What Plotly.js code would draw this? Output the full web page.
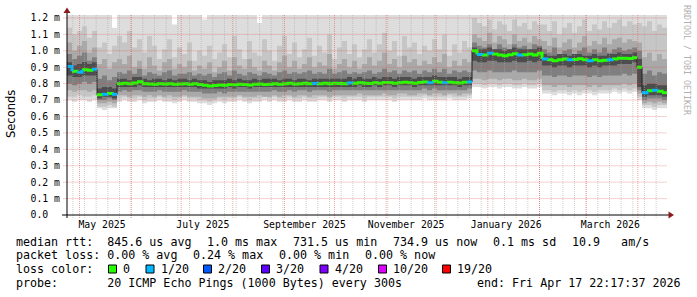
<!DOCTYPE html>
<html><head><meta charset="utf-8">
<script src="https://cdn.plot.ly/plotly-3.0.1.min.js"></script>
<style>html,body{margin:0;padding:0;background:#fff;}#chart{width:697px;height:297px;}</style>
</head><body><div id="chart"></div>
<script>
// ---------- DATA ----------
const START = Date.UTC(2025, 3, 23, 12, 0, 0);   // left edge / first step
const STEP_DAYS = 3;                              // rrd step of this graph
const RANGE_END = '2026-04-18 12:00:00';

// median rtt in ms, one value per 3-day step
const median = [
 0.905,0.875,0.870,0.885,0.882,0.888,
 0.732,0.736,0.740,0.735,
 0.800,0.802,0.800,0.804,0.812,0.800,0.798,0.797,0.800,0.798,
 0.800,0.796,0.798,0.800,0.797,0.799,0.795,0.790,0.786,0.788,
 0.792,0.790,0.795,0.793,0.797,0.795,0.792,0.796,0.798,0.795,
 0.797,0.800,0.796,0.799,0.802,0.798,0.800,0.803,0.799,0.801,
 0.800,0.802,0.799,0.803,0.801,0.800,0.804,0.802,0.806,0.803,
 0.801,0.805,0.803,0.807,0.805,0.803,0.806,0.809,0.806,0.803,
 0.807,0.810,0.806,0.814,0.808,0.805,0.809,0.806,0.804,0.808,0.810,
 1.000,0.978,0.975,0.985,0.980,0.975,0.970,0.976,0.982,0.975,0.976,0.980,0.975,0.985,
 0.950,0.945,0.940,0.946,0.950,0.945,0.947,0.952,0.945,0.940,0.946,0.940,0.942,0.946,0.950,
 0.955,0.955,0.953,0.958,
 0.900,
 0.745,0.756,0.760,0.754,0.745];

// lost pings (of 20) per step
const lossCount = [
 1,0,1,0,0,1,0,1,0,1,
 0,0,0,0,0,0,0,0,0,0,
 0,0,0,0,0,0,0,0,0,0,
 0,0,0,0,0,0,0,0,0,0,
 0,0,0,0,0,0,0,0,0,1,
 0,0,0,0,0,0,1,0,0,0,
 0,0,0,0,0,0,0,0,0,0,
 0,0,1,0,0,1,0,0,0,0,
 1,0,1,0,1,0,0,0,0,0,
 1,0,0,0,0,1,0,0,0,0,
 1,0,0,0,1,0,0,0,1,0,
 0,0,0,0,0,1,0,1,0,0];

// smoke bands (outer -> inner), low and high edge in ms
const smoke1Lo = [
 0.70,0.69,0.70,0.70,0.69,0.70,
 0.65,0.64,0.65,0.65,
 0.69,0.70,0.69,0.69,0.70,0.68,0.69,0.69,0.70,0.69,
 0.69,0.68,0.69,0.70,0.69,0.69,0.68,0.68,0.67,0.68,
 0.69,0.68,0.69,0.69,0.70,0.69,0.68,0.69,0.69,0.70,
 0.69,0.70,0.69,0.69,0.70,0.69,0.69,0.70,0.69,0.69,
 0.70,0.70,0.69,0.70,0.70,0.69,0.70,0.70,0.70,0.69,
 0.70,0.70,0.70,0.70,0.70,0.69,0.70,0.70,0.70,0.70,
 0.70,0.71,0.70,0.70,0.70,0.70,0.71,0.70,0.70,0.70,0.71,
 0.78,0.78,0.77,0.78,0.78,0.77,0.78,0.78,0.77,0.77,0.78,0.77,0.77,0.78,
 0.74,0.74,0.73,0.74,0.74,0.73,0.74,0.73,0.74,0.74,0.73,0.74,0.74,0.74,0.75,
 0.74,0.75,0.74,0.75,
 0.70,
 0.65,0.65,0.64,0.65,0.65];
const smoke1Hi = [
 1.25,1.25,1.25,1.25,1.25,1.25,
 1.25,1.25,1.25,1.14,
 1.25,1.25,1.25,1.25,1.25,1.25,1.25,1.25,1.25,1.25,
 1.25,1.16,1.25,1.25,1.25,1.25,1.25,1.19,1.25,1.25,
 1.25,1.25,1.25,1.25,1.25,1.25,1.25,1.25,1.17,1.25,
 1.25,1.25,1.25,1.25,1.25,1.25,1.25,1.25,1.25,1.25,
 1.25,1.25,1.25,1.25,1.25,1.25,1.25,1.25,1.25,1.25,
 1.25,1.25,1.25,1.25,1.25,1.25,1.25,1.25,1.25,1.25,
 1.25,1.25,1.25,1.25,1.25,1.25,1.25,1.25,1.25,1.25,1.25,
 1.25,1.25,1.25,1.25,1.25,1.25,1.25,1.25,1.25,1.25,1.25,1.25,1.25,1.25,
 1.25,1.25,1.25,1.25,1.25,1.25,1.25,1.25,1.25,1.25,1.25,1.25,1.25,1.25,1.25,
 1.25,1.25,1.25,1.25,
 1.25,
 1.25,1.25,1.25,1.25,1.25];
const smoke2Lo = [
 0.72,0.72,0.73,0.72,0.72,0.73,
 0.66,0.66,0.67,0.66,
 0.71,0.72,0.71,0.71,0.72,0.70,0.71,0.71,0.72,0.71,
 0.71,0.70,0.71,0.72,0.71,0.71,0.70,0.70,0.69,0.70,
 0.71,0.70,0.71,0.71,0.72,0.71,0.70,0.71,0.71,0.72,
 0.71,0.72,0.71,0.71,0.72,0.71,0.71,0.72,0.71,0.71,
 0.72,0.72,0.71,0.72,0.72,0.71,0.72,0.72,0.72,0.71,
 0.72,0.72,0.72,0.72,0.72,0.71,0.72,0.72,0.72,0.72,
 0.72,0.73,0.72,0.72,0.72,0.72,0.73,0.72,0.72,0.72,0.73,
 0.80,0.80,0.79,0.80,0.80,0.79,0.80,0.80,0.79,0.79,0.80,0.79,0.79,0.80,
 0.76,0.76,0.75,0.76,0.76,0.75,0.76,0.75,0.76,0.76,0.75,0.76,0.76,0.76,0.77,
 0.76,0.77,0.76,0.77,
 0.72,
 0.67,0.67,0.66,0.67,0.67];
const smoke2Hi = [
 1.14,1.10,1.12,1.15,1.08,1.12,
 1.02,1.05,0.98,1.03,
 1.09,1.05,1.12,1.02,1.07,0.99,1.09,1.03,0.95,1.01,
 1.07,0.96,1.02,0.98,1.05,0.94,1.00,0.97,1.03,0.95,
 0.99,1.04,0.96,1.09,1.01,0.95,1.06,0.99,0.97,1.07,
 1.00,0.94,1.03,1.09,0.98,1.05,0.96,1.01,1.08,0.97,
 1.03,0.99,1.10,0.95,1.02,1.06,0.98,1.04,0.96,1.01,
 1.07,0.99,1.04,1.11,1.00,1.06,0.97,1.09,1.02,1.05,
 0.98,1.03,1.00,1.07,1.01,1.10,0.97,1.04,0.99,1.06,1.02,
 1.20,1.17,1.15,1.19,1.13,1.18,1.16,1.12,1.19,1.15,1.17,1.13,1.18,1.16,
 1.16,1.12,1.18,1.10,1.14,1.17,1.11,1.15,1.19,1.12,1.16,1.13,1.18,1.14,1.17,
 1.19,1.15,1.18,1.16,
 1.17,
 1.15,1.18,1.12,1.16,1.14];
const smoke3Lo = [
 0.76,0.75,0.76,0.76,0.75,0.76,
 0.68,0.68,0.69,0.68,
 0.73,0.73,0.72,0.73,0.73,0.72,0.73,0.72,0.73,0.72,
 0.73,0.72,0.72,0.73,0.72,0.72,0.72,0.71,0.71,0.71,
 0.72,0.72,0.72,0.72,0.73,0.72,0.72,0.72,0.73,0.72,
 0.72,0.73,0.72,0.73,0.73,0.72,0.73,0.73,0.72,0.73,
 0.73,0.73,0.72,0.73,0.73,0.73,0.73,0.73,0.74,0.73,
 0.73,0.73,0.73,0.74,0.73,0.73,0.74,0.74,0.73,0.73,
 0.74,0.74,0.73,0.74,0.74,0.73,0.74,0.74,0.73,0.74,0.74,
 0.83,0.83,0.82,0.83,0.83,0.82,0.83,0.83,0.82,0.82,0.83,0.82,0.82,0.83,
 0.79,0.79,0.78,0.79,0.79,0.78,0.79,0.79,0.79,0.78,0.79,0.78,0.79,0.79,0.79,
 0.79,0.80,0.79,0.80,
 0.74,
 0.68,0.69,0.68,0.69,0.68];
const smoke3Hi = [
 1.05,1.00,1.03,1.06,0.99,1.02,
 0.92,0.95,0.89,0.93,
 0.95,0.92,0.97,0.90,0.94,0.89,0.96,0.91,0.88,0.93,
 0.95,0.89,0.92,0.90,0.94,0.88,0.91,0.89,0.93,0.87,
 0.90,0.94,0.88,0.96,0.91,0.89,0.95,0.90,0.88,0.94,
 0.91,0.88,0.93,0.97,0.90,0.94,0.89,0.92,0.96,0.90,
 0.93,0.91,0.98,0.89,0.92,0.95,0.90,0.94,0.89,0.92,
 0.96,0.91,0.94,0.99,0.92,0.95,0.90,0.97,0.93,0.95,
 0.91,0.94,0.92,0.96,0.93,0.98,0.90,0.94,0.91,0.95,0.93,
 1.10,1.08,1.06,1.11,1.05,1.09,1.07,1.04,1.10,1.06,1.08,1.05,1.09,1.07,
 1.06,1.03,1.08,1.02,1.05,1.07,1.02,1.05,1.09,1.03,1.06,1.04,1.08,1.04,1.07,
 1.08,1.05,1.07,1.06,
 1.05,
 0.96,0.99,0.94,0.98,0.95];
const smoke4Lo = [
 0.80,0.79,0.80,0.81,0.80,0.81,
 0.70,0.70,0.71,0.70,
 0.75,0.76,0.75,0.76,0.76,0.75,0.75,0.75,0.76,0.75,
 0.75,0.75,0.75,0.76,0.75,0.75,0.75,0.74,0.74,0.74,
 0.75,0.74,0.75,0.75,0.75,0.75,0.75,0.75,0.75,0.75,
 0.75,0.76,0.75,0.75,0.76,0.75,0.76,0.76,0.75,0.76,
 0.76,0.76,0.75,0.76,0.76,0.76,0.76,0.76,0.76,0.76,
 0.76,0.76,0.76,0.76,0.76,0.76,0.76,0.76,0.76,0.76,
 0.76,0.77,0.76,0.77,0.76,0.76,0.76,0.76,0.76,0.76,0.77,
 0.88,0.87,0.87,0.88,0.87,0.87,0.87,0.87,0.88,0.87,0.87,0.87,0.87,0.88,
 0.85,0.85,0.84,0.85,0.85,0.84,0.85,0.85,0.85,0.84,0.85,0.84,0.85,0.85,0.85,
 0.85,0.86,0.85,0.86,
 0.76,
 0.70,0.71,0.71,0.71,0.70];
const smoke4Hi = [
 0.98,0.95,0.97,0.99,0.94,0.96,
 0.83,0.85,0.82,0.84,
 0.87,0.86,0.88,0.86,0.89,0.85,0.87,0.86,0.85,0.87,
 0.88,0.85,0.86,0.86,0.87,0.85,0.86,0.85,0.86,0.84,
 0.86,0.87,0.85,0.88,0.86,0.85,0.87,0.86,0.85,0.87,
 0.86,0.85,0.87,0.88,0.86,0.87,0.86,0.87,0.88,0.86,
 0.87,0.86,0.89,0.86,0.87,0.88,0.86,0.87,0.86,0.87,
 0.88,0.86,0.87,0.89,0.87,0.88,0.86,0.88,0.87,0.88,
 0.86,0.88,0.87,0.89,0.87,0.89,0.86,0.88,0.87,0.88,0.87,
 1.05,1.03,1.02,1.04,1.01,1.04,1.02,1.01,1.04,1.02,1.03,1.01,1.04,1.03,
 1.01,0.99,1.02,0.98,1.00,1.01,0.98,1.00,1.02,0.99,1.01,0.99,1.02,0.99,1.01,
 1.02,1.00,1.01,1.02,
 1.00,
 0.86,0.88,0.85,0.87,0.86];
const smoke5Lo = [
 0.85,0.84,0.84,0.85,0.85,0.85,
 0.71,0.72,0.72,0.71,
 0.78,0.78,0.78,0.78,0.79,0.78,0.78,0.78,0.78,0.78,
 0.78,0.78,0.78,0.78,0.78,0.78,0.77,0.77,0.77,0.77,
 0.77,0.77,0.78,0.77,0.78,0.78,0.77,0.78,0.78,0.78,
 0.78,0.78,0.78,0.78,0.78,0.78,0.78,0.78,0.78,0.78,
 0.78,0.78,0.78,0.78,0.78,0.78,0.78,0.78,0.79,0.78,
 0.78,0.79,0.78,0.79,0.79,0.78,0.79,0.79,0.79,0.78,
 0.79,0.79,0.79,0.79,0.79,0.79,0.79,0.79,0.78,0.79,0.79,
 0.94,0.93,0.93,0.94,0.94,0.93,0.93,0.93,0.94,0.93,0.93,0.94,0.93,0.94,
 0.91,0.91,0.90,0.91,0.91,0.90,0.91,0.91,0.91,0.90,0.91,0.90,0.91,0.91,0.91,
 0.92,0.92,0.92,0.93,
 0.78,
 0.72,0.73,0.73,0.73,0.72];
const smoke5Hi = [
 0.93,0.91,0.92,0.93,0.92,0.93,
 0.77,0.78,0.78,0.77,
 0.83,0.83,0.82,0.84,0.84,0.83,0.82,0.83,0.83,0.82,
 0.83,0.82,0.83,0.83,0.82,0.83,0.82,0.82,0.81,0.82,
 0.82,0.82,0.83,0.82,0.83,0.82,0.82,0.83,0.82,0.83,
 0.83,0.83,0.82,0.83,0.83,0.82,0.83,0.83,0.82,0.83,
 0.83,0.83,0.83,0.83,0.83,0.83,0.84,0.83,0.84,0.83,
 0.83,0.84,0.83,0.84,0.84,0.83,0.84,0.84,0.84,0.83,
 0.84,0.84,0.84,0.85,0.84,0.84,0.84,0.84,0.83,0.84,0.84,
 1.02,1.01,1.01,1.02,1.01,1.01,1.00,1.01,1.02,1.01,1.01,1.01,1.01,1.02,
 0.98,0.97,0.97,0.98,0.98,0.97,0.98,0.98,0.97,0.97,0.98,0.97,0.97,0.98,0.98,
 0.99,0.98,0.98,0.99,
 0.95,
 0.79,0.80,0.80,0.79,0.79];

// tick labels
const xTickDates  = ['2025-05-14 12:00','2025-07-14','2025-09-13','2025-11-13','2026-01-12','2026-03-15 12:00'];
const xTickLabels = ['May 2025','July 2025','September 2025','November 2025','January 2026','March 2026'];
const yTickVals   = [0,0.1,0.2,0.3,0.4,0.5,0.6,0.7,0.8,0.9,1.0,1.1,1.2];
const yTickLabels = ['0.0  ','0.1 m','0.2 m','0.3 m','0.4 m','0.5 m','0.6 m','0.7 m','0.8 m','0.9 m','1.0 m','1.1 m','1.2 m'];
const monthGrid   = ['2025-05-01','2025-06-01','2025-07-01','2025-08-01','2025-09-01','2025-10-01','2025-11-01','2025-12-01','2026-01-01','2026-02-01','2026-03-01','2026-04-01'];
const firstSunday = Date.UTC(2025, 3, 27);

// loss legend
const lossLevels = [0, 1, 2, 3, 4, 10, 19];
const lossLabels = ['0','1/20','2/20','3/20','4/20','10/20','19/20'];
const lossColors = ['#26ff00','#00b8ff','#0059ff','#5e00ff','#7e00ff','#dd00ff','#ff0000'];
const smokeColors = ['#dddddd','#c6c6c6','#a9a9a9','#7f7f7f','#4d4d4d'];

// ---------- BUILD ----------
const DAY = 86400000;
const iso = ms => new Date(ms).toISOString().slice(0,19).replace('T',' ');
const n = median.length;
const xs = [];
for (let i = 0; i <= n; i++) xs.push(iso(START + i*STEP_DAYS*DAY));
const ext = a => a.concat([a[a.length-1]]);

const traces = [];
const bands = [[smoke1Lo,smoke1Hi],[smoke2Lo,smoke2Hi],[smoke3Lo,smoke3Hi],[smoke4Lo,smoke4Hi],[smoke5Lo,smoke5Hi]];
bands.forEach((b, k) => {
  traces.push({x: xs, y: ext(b[0]), mode: 'lines', line: {width: 0, shape: 'hv'}, hoverinfo: 'skip'});
  traces.push({x: xs, y: ext(b[1]), mode: 'lines', line: {width: 0, shape: 'hv'}, fill: 'tonexty', fillcolor: smokeColors[k], hoverinfo: 'skip'});
});
traces.push({x: xs, y: ext(median), mode: 'lines', line: {color: '#202020', width: 1, shape: 'hv'}, hoverinfo: 'skip'});

const cls = v => { let c = 0; lossLevels.forEach((l, j) => { if (v >= l) c = j; }); return c; };
const segX = lossLevels.map(() => []), segY = lossLevels.map(() => []);
for (let i = 0; i < n; i++) {
  const c = cls(lossCount[i]);
  segX[c].push(xs[i], xs[i+1]); segY[c].push(median[i], median[i]);
  if (i + 1 < n && Math.abs(median[i+1] - median[i]) < 0.05) { segX[c].push(xs[i+1]); segY[c].push(median[i+1]); }
  segX[c].push(null); segY[c].push(null);
}
lossLevels.forEach((l, c) => {
  if (segX[c].length) traces.push({x: segX[c], y: segY[c], mode: 'lines', line: {color: lossColors[c], width: 3}, connectgaps: false, hoverinfo: 'skip'});
});

// grid (drawn over the smoke, like rrdtool)
const shapes = [];
const GRID = 'rgba(170,170,170,0.55)', MGRID = 'rgba(225,70,70,0.5)';
const endMs = Date.UTC(2026, 3, 18, 12);
for (let d = firstSunday; d < endMs; d += 7*DAY)
  shapes.push({type:'line', xref:'x', yref:'paper', x0: iso(d), x1: iso(d), y0: -0.015, y1: 1, layer:'above', line:{color: GRID, width: 1, dash: '1px,1px'}});
monthGrid.forEach(d => shapes.push({type:'line', xref:'x', yref:'paper', x0: d, x1: d, y0: -0.015, y1: 1, layer:'above', line:{color: MGRID, width: 1, dash: '1px,1px'}}));
yTickVals.slice(1).forEach(v => shapes.push({type:'line', xref:'paper', yref:'y', x0: -0.006, x1: 1, y0: v, y1: v, layer:'above', line:{color: MGRID, width: 1, dash: '1px,1px'}}));
// axes with arrows
const P = px => (px - 67) / 600, Q = py => (215 - py) / 200;
shapes.push({type:'line', xref:'paper', yref:'paper', x0: P(62), x1: P(669), y0: 0, y1: 0, layer:'above', line:{color:'#000', width:1}});
shapes.push({type:'line', xref:'paper', yref:'paper', x0: 0, x1: 0, y0: Q(218), y1: Q(12), layer:'above', line:{color:'#000', width:1}});
shapes.push({type:'path', xref:'paper', yref:'paper', layer:'above', line:{width:0}, fillcolor:'#8b1a1a',
  path: `M${P(674)},${Q(215)} L${P(668.5)},${Q(211.5)} L${P(668.5)},${Q(218.5)} Z`});
shapes.push({type:'path', xref:'paper', yref:'paper', layer:'above', line:{width:0}, fillcolor:'#8b1a1a',
  path: `M${P(67)},${Q(7.5)} L${P(63.5)},${Q(13)} L${P(70.5)},${Q(13)} Z`});

// legend
const nb = s => s.replace(/ /g, '\u00a0');
const LF = {family: 'DejaVu Sans Mono', size: 11.66, color: '#000'};
const ann = [];
const addText = (x, y, t, anchor) => ann.push({xref:'paper', yref:'paper', x: P(x), y: Q(y), text: nb(t), showarrow: false,
  xanchor: anchor || 'left', yanchor: 'middle', font: LF, borderpad: 0, borderwidth: 0});
const row1 = 241.5, row2 = 255.3, row3 = 269, row4 = 282.7;
addText(16, row1, 'median rtt:  845.6 us avg');
addText(207, row1, '1.0 ms max');
addText(293, row1, '731.5 us min');
addText(393, row1, '734.9 us now');
addText(493, row1, '0.1 ms sd');
addText(572, row1, '10.9   am/s');
addText(16, row2, 'packet loss: 0.00 % avg');
addText(193, row2, '0.24 % max');
addText(279, row2, '0.00 % min');
addText(365, row2, '0.00 % now');
addText(16, row3, 'loss color:');
const boxX = [108.5, 146, 203.5, 261.5, 320, 378.5, 442.5];
lossLabels.forEach((l, j) => {
  shapes.push({type:'rect', xref:'paper', yref:'paper', x0: P(boxX[j]), x1: P(boxX[j] + 8), y0: Q(273), y1: Q(265), fillcolor: lossColors[j], line:{color:'#000', width:1}});
  addText(boxX[j] + 14.5, row3, l);
});
addText(16, row4, 'probe:       20 ICMP Echo Pings (1000 Bytes) every 300s');
addText(681, row4, 'end: Fri Apr 17 22:17:37 2026', 'right');
// y title and watermark
ann.push({xref:'paper', yref:'paper', x: P(11), y: Q(114), text: 'Seconds', textangle: -90, showarrow: false,
  xanchor:'center', yanchor:'middle', font:{family:'DejaVu Sans', size: 11.5, color:'#000'}, borderpad:0});
ann.push({xref:'paper', yref:'paper', x: P(687), y: Q(60), text: nb('RRDTOOL / TOBI OETIKER'), textangle: 90, showarrow: false,
  xanchor:'center', yanchor:'middle', font:{family:'DejaVu Sans Mono', size: 8.3, color:'#b0b0b0'}, borderpad:0});

const AF = {family: 'DejaVu Sans Mono', size: 9.8, color: '#000'};
const layout = {
  width: 697, height: 297,
  margin: {l: 67, r: 30, t: 15, b: 82, pad: 0},
  paper_bgcolor: '#ffffff', plot_bgcolor: '#ffffff',
  showlegend: false,
  xaxis: {type: 'date', range: [iso(START), RANGE_END], tickvals: xTickDates, ticktext: xTickLabels,
    showgrid: false, zeroline: false, showline: false, ticks: '', tickfont: AF, ticklabelstandoff: 2, fixedrange: true},
  yaxis: {range: [0, 1.218], tickvals: yTickVals, ticktext: yTickLabels.map(nb), showgrid: false, zeroline: false,
    showline: false, ticks: '', tickfont: AF, ticklabelstandoff: 6, fixedrange: true},
  shapes: shapes, annotations: ann
};
Plotly.newPlot('chart', traces, layout, {staticPlot: true, displayModeBar: false});
</script></body></html>
